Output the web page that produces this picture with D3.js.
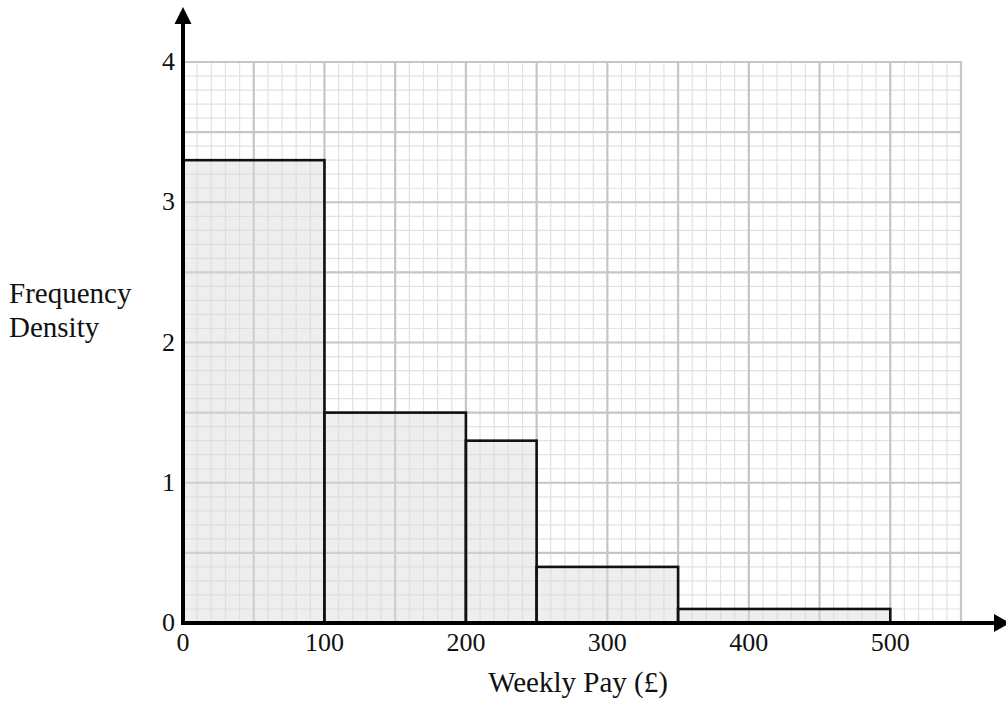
<!DOCTYPE html>
<html>
<head>
<meta charset="utf-8">
<script src="https://cdn.jsdelivr.net/npm/d3@7"></script>
<style>
  body { margin: 0; background: #fff; }
</style>
</head>
<body>
<div id="chart"></div>
<script>
// histogram data: class boundaries and frequency density
const binStarts = [0, 100, 200, 250, 350];
const binEnds = [100, 200, 250, 350, 500];
const densities = [3.3, 1.5, 1.3, 0.4, 0.1];
const xTicks = [0, 100, 200, 300, 400, 500];
const yTicks = [0, 1, 2, 3, 4];
const xLabel = 'Weekly Pay (£)';
const yLabelLines = ['Frequency', 'Density'];

const W = 1006, H = 702;
const X0 = 183, X1 = 961;   // 0 .. 550
const Y0 = 623, Y1 = 62;    // 0 .. 4
const FONT = "'Liberation Serif', 'Times New Roman', Times, 'DejaVu Serif', serif";

const x = d3.scaleLinear().domain([0, 550]).range([X0, X1]);
const y = d3.scaleLinear().domain([0, 4]).range([Y0, Y1]);

const svg = d3.select('#chart').append('svg')
  .attr('width', W)
  .attr('height', H)
  .style('font-family', FONT);

// graph paper: minor lines every 10 / 0.1, major every 50 / 0.5
const minorX = d3.range(0, 551, 10);
const minorY = d3.range(0, 41, 1).map(d => d / 10);
const majorX = d3.range(0, 551, 50);
const majorY = d3.range(0, 9, 1).map(d => d / 2);

const grid = svg.append('g');

grid.selectAll('line.mx')
  .data(minorX)
  .enter()
  .append('line')
  .attr('x1', d => x(d)).attr('x2', d => x(d))
  .attr('y1', y(0)).attr('y2', y(4))
  .attr('stroke', '#e2e2e2').attr('stroke-width', 1.2);

grid.selectAll('line.my')
  .data(minorY)
  .enter()
  .append('line')
  .attr('y1', d => y(d)).attr('y2', d => y(d))
  .attr('x1', x(0)).attr('x2', x(550))
  .attr('stroke', '#e2e2e2').attr('stroke-width', 1.2);

grid.selectAll('line.Mx')
  .data(majorX)
  .enter()
  .append('line')
  .attr('x1', d => x(d)).attr('x2', d => x(d))
  .attr('y1', y(0)).attr('y2', y(4))
  .attr('stroke', '#c6c6c6').attr('stroke-width', 2.2);

grid.selectAll('line.My')
  .data(majorY)
  .enter()
  .append('line')
  .attr('y1', d => y(d)).attr('y2', d => y(d))
  .attr('x1', x(0) - 1).attr('x2', x(550) + 1)
  .attr('stroke', '#c6c6c6').attr('stroke-width', 2.2);

// bars
svg.selectAll('rect.bar')
  .data(densities)
  .enter()
  .append('rect')
  .attr('x', (d, i) => x(binStarts[i]))
  .attr('width', (d, i) => x(binEnds[i]) - x(binStarts[i]))
  .attr('y', d => y(d))
  .attr('height', d => y(0) - y(d))
  .attr('fill', '#d9d9d9')
  .attr('fill-opacity', 0.45)
  .attr('stroke', '#111')
  .attr('stroke-width', 2.6);

// axes with arrowheads
svg.append('line')
  .attr('x1', x(0)).attr('x2', 996)
  .attr('y1', y(0)).attr('y2', y(0))
  .attr('stroke', '#000').attr('stroke-width', 4);
svg.append('path')
  .attr('d', `M994,${y(0) - 9} L1010,${y(0)} L994,${y(0) + 9} Z`)
  .attr('fill', '#000');

svg.append('line')
  .attr('x1', x(0)).attr('x2', x(0))
  .attr('y1', y(0) + 2).attr('y2', 22)
  .attr('stroke', '#000').attr('stroke-width', 4);
svg.append('path')
  .attr('d', `M${x(0) - 8.5},24 L${x(0)},7 L${x(0) + 8.5},24 Z`)
  .attr('fill', '#000');

// tick labels
svg.selectAll('text.xt')
  .data(xTicks)
  .enter()
  .append('text')
  .attr('x', d => x(d))
  .attr('y', y(0) + 28)
  .attr('text-anchor', 'middle')
  .attr('font-size', 26)
  .attr('fill', '#111')
  .text(d => d);

svg.selectAll('text.yt')
  .data(yTicks)
  .enter()
  .append('text')
  .attr('x', x(0) - 8)
  .attr('y', d => y(d) + 8)
  .attr('text-anchor', 'end')
  .attr('font-size', 26)
  .attr('fill', '#111')
  .text(d => d);

// axis titles
svg.append('text')
  .attr('x', 578)
  .attr('y', 692)
  .attr('text-anchor', 'middle')
  .attr('font-size', 29)
  .attr('fill', '#111')
  .text(xLabel);

svg.selectAll('text.yl')
  .data(yLabelLines)
  .enter()
  .append('text')
  .attr('x', 9)
  .attr('y', (d, i) => 303 + i * 34)
  .attr('font-size', 29)
  .attr('fill', '#111')
  .text(d => d);
</script>
</body>
</html>
